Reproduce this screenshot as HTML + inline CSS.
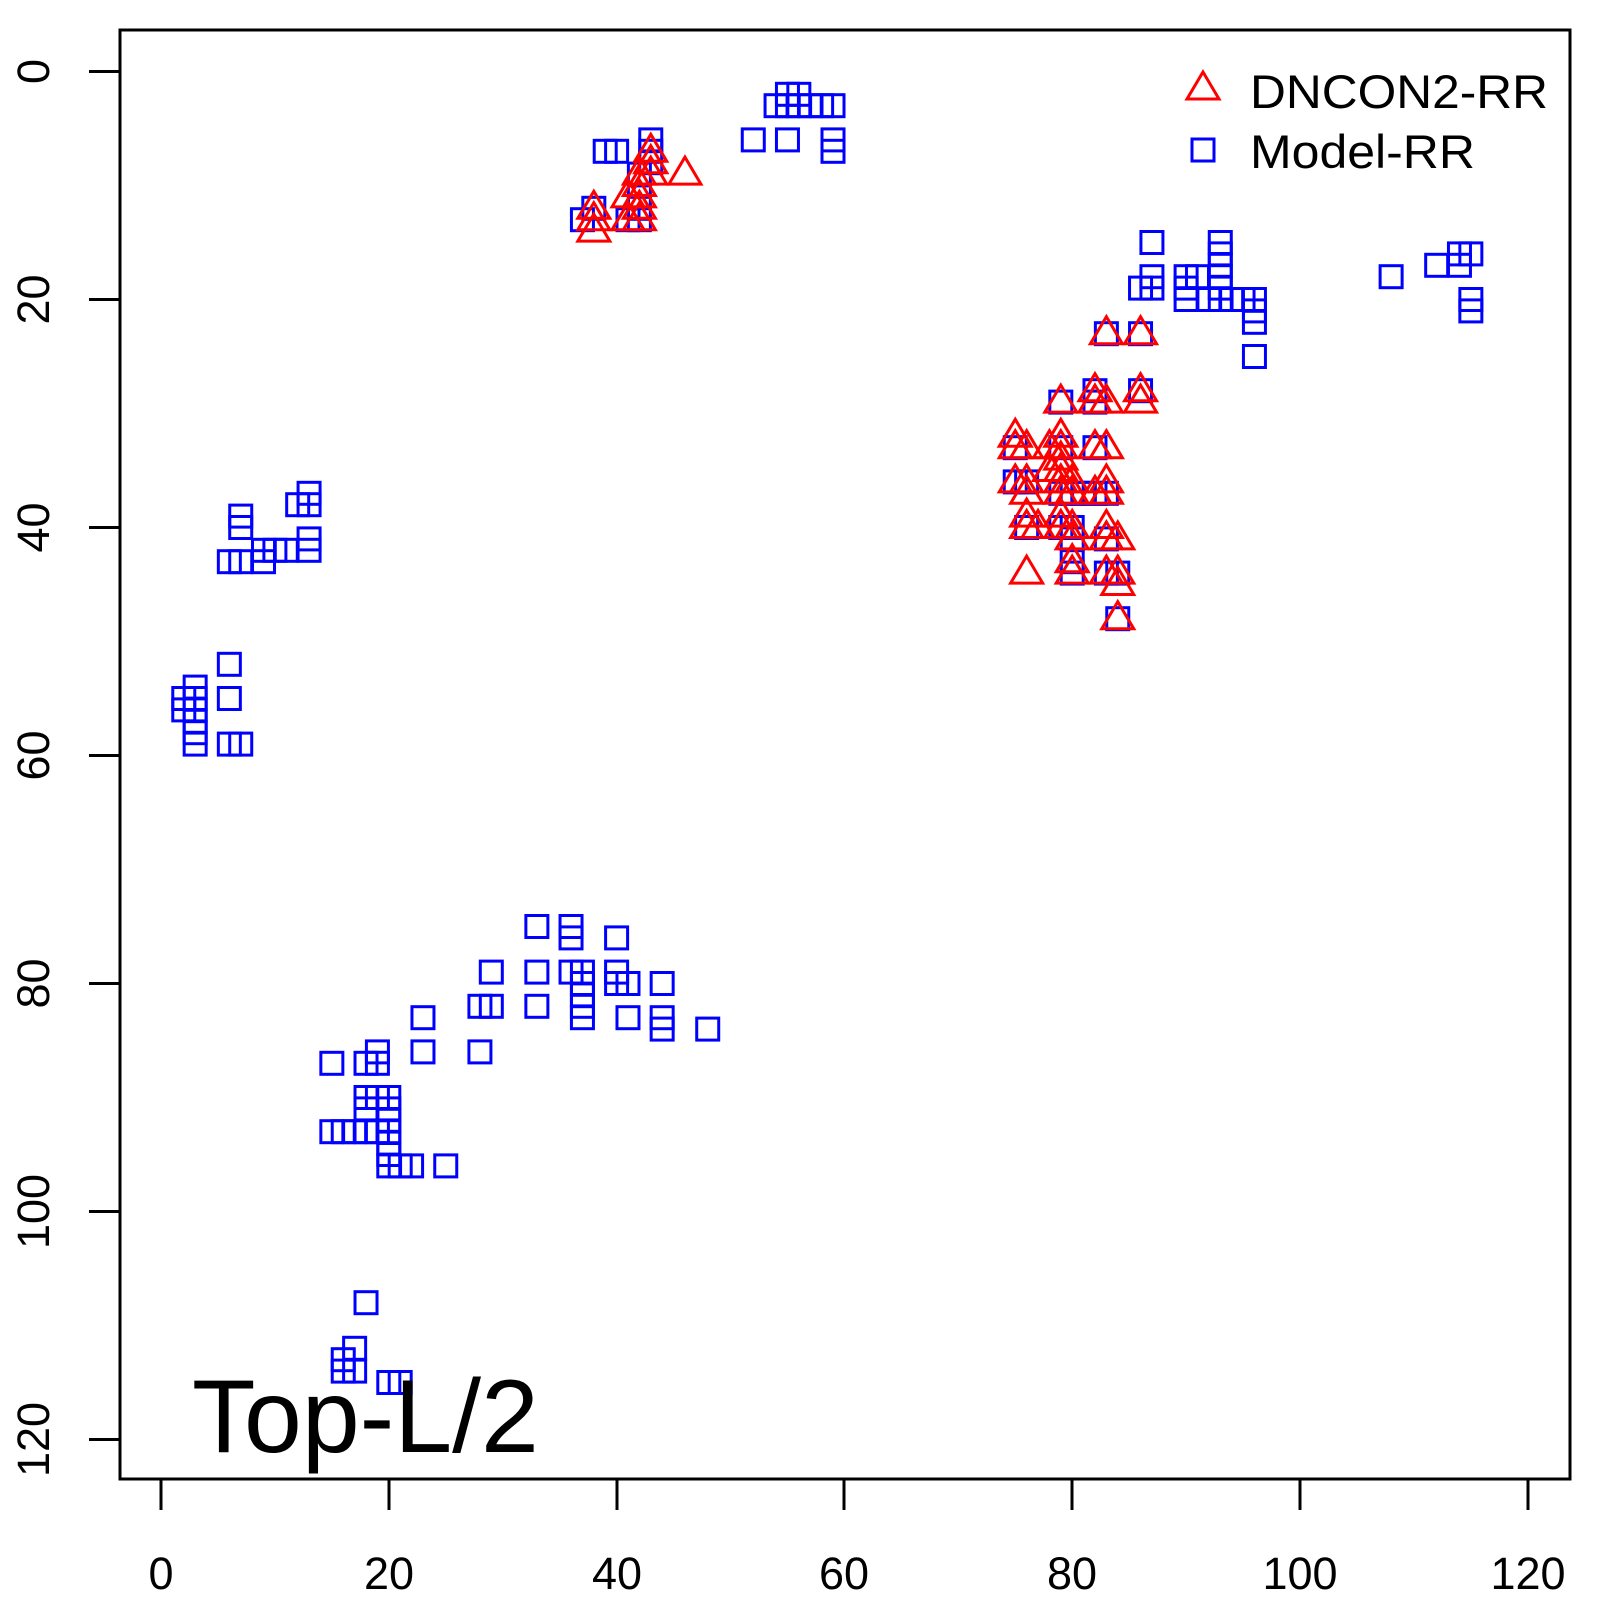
<!DOCTYPE html>
<html><head><meta charset="utf-8"><style>
html,body{margin:0;padding:0;background:#fff}
svg{display:block}
text{font-family:"Liberation Sans",Arial,sans-serif}
</style></head><body>
<svg id="s" width="1600" height="1600" viewBox="0 0 1600 1600" xmlns="http://www.w3.org/2000/svg">
<rect x="120" y="30" width="1450" height="1449" fill="none" stroke="#000" stroke-width="3"/>
<g stroke="#000" stroke-width="3">
<line x1="161" y1="1479" x2="1528" y2="1479"/>
<line x1="161" y1="1479" x2="161" y2="1510"/>
<line x1="389" y1="1479" x2="389" y2="1510"/>
<line x1="617" y1="1479" x2="617" y2="1510"/>
<line x1="844" y1="1479" x2="844" y2="1510"/>
<line x1="1072" y1="1479" x2="1072" y2="1510"/>
<line x1="1300" y1="1479" x2="1300" y2="1510"/>
<line x1="1528" y1="1479" x2="1528" y2="1510"/>
<line x1="120" y1="71.5" x2="120" y2="1439.5"/>
<line x1="89" y1="71.5" x2="120" y2="71.5"/>
<line x1="89" y1="299.5" x2="120" y2="299.5"/>
<line x1="89" y1="527.5" x2="120" y2="527.5"/>
<line x1="89" y1="755.5" x2="120" y2="755.5"/>
<line x1="89" y1="983.5" x2="120" y2="983.5"/>
<line x1="89" y1="1211.5" x2="120" y2="1211.5"/>
<line x1="89" y1="1439.5" x2="120" y2="1439.5"/>
</g>
<g font-size="45" text-anchor="middle" fill="#000">
<text x="161" y="1589">0</text>
<text x="389" y="1589">20</text>
<text x="617" y="1589">40</text>
<text x="844" y="1589">60</text>
<text x="1072" y="1589">80</text>
<text x="1300" y="1589">100</text>
<text x="1528" y="1589">120</text>
<text transform="translate(49,71.5) rotate(-90)">0</text>
<text transform="translate(49,299.5) rotate(-90)">20</text>
<text transform="translate(49,527.5) rotate(-90)">40</text>
<text transform="translate(49,755.5) rotate(-90)">60</text>
<text transform="translate(49,983.5) rotate(-90)">80</text>
<text transform="translate(49,1211.5) rotate(-90)">100</text>
<text transform="translate(49,1439.5) rotate(-90)">120</text>
</g>
<g id="blue" fill="none" stroke="#0000ff" stroke-width="3"></g>
<g id="red" fill="none" stroke="#ff0000" stroke-width="3"></g>
<polygon points="1203,72 1219,99 1187,99" fill="none" stroke="#ff0000" stroke-width="3"/>
<rect x="1192" y="139" width="22" height="22" fill="none" stroke="#0000ff" stroke-width="3"/>
<text x="1250" y="108" font-size="47" textLength="298" lengthAdjust="spacingAndGlyphs">DNCON2-RR</text>
<text x="1250" y="168" font-size="47" textLength="225" lengthAdjust="spacingAndGlyphs">Model-RR</text>
<text x="192" y="1452" font-size="104">Top-L/2</text>
</svg>
<script>
var X=function(v){return 161+11.39*v},Y=function(v){return 71.5+11.4*v};
var B=[[55,2],[56,2],[54,3],[55,3],[56,3],[57,3],[58,3],[59,3],[52,6],[55,6],[59,6],[59,7],
[39,7],[40,7],[43,6],[43,7],[43,8],[42,9],[38,12],[37,13],[41,13],[42,13],[42,12],[42,11],
[83,23],[86,23],[82,28],[86,28],[82,29],[79,29],[75,33],[79,33],[82,33],[75,36],[76,36],[79,37],[80,37],[81,37],[82,37],[83,37],
[76,40],[79,40],[80,40],[80,41],[83,41],[80,43],[80,44],[83,44],[84,44],[84,48],
[87,15],[87,18],[87,19],[86,19],[90,18],[90,19],[90,20],[91,18],[93,15],[93,16],[93,17],[93,18],[93,19],[93,20],[92,20],[94,20],[95,20],[96,20],[96,21],[96,22],[96,25],
[108,18],[112,17],[114,16],[114,17],[115,16],[115,20],[115,21],
[13,37],[13,38],[12,38],[13,41],[13,42],[11,42],[10,42],[9,42],[9,43],[7,39],[7,40],[6,43],[7,43],
[6,52],[6,55],[2,55],[2,56],[3,54],[3,55],[3,56],[3,57],[3,58],[3,59],[6,59],[7,59],
[15,87],[15,93],[16,93],[17,93],[18,93],[19,93],[20,93],[18,87],[19,86],[19,87],[18,90],[18,91],[19,90],[20,90],[20,91],[20,92],[20,94],[20,95],[20,96],[21,96],[22,96],[25,96],
[23,83],[23,86],[28,82],[29,82],[28,86],[29,79],[33,75],[33,79],[33,82],[36,75],[36,76],[36,79],[37,79],[37,80],[37,81],[37,82],[37,83],[40,76],[40,79],[40,80],[41,80],[41,83],[44,80],[44,83],[44,84],[48,84],
[18,108],[17,112],[16,113],[16,114],[17,114],[20,115],[21,115]];
var R=[[38,12],[38,13],[38,14],[41,11],[41,13],[42,9],[42,10],[42,11],[42,12],[42,13],[43,7],[43,8],[43,9],[46,9],
[83,23],[86,23],[82,28],[82,29],[83,29],[86,28],[86,29],[79,29],[75,32],[75,33],[76,33],[78,33],[79,32],[79,33],[82,33],[83,33],
[75,36],[76,36],[76,37],[79,34],[79,35],[79,36],[79,37],[80,36],[80,37],[78,35],[82,37],[83,36],[83,37],
[76,39],[76,40],[77,40],[79,39],[79,40],[80,40],[80,41],[83,40],[83,41],[84,41],[76,44],[80,43],[80,44],[83,44],[84,44],[84,45],[84,48]];
var ns="http://www.w3.org/2000/svg",gb=document.getElementById("blue"),gr=document.getElementById("red");
B.forEach(function(p){var r=document.createElementNS(ns,"rect");r.setAttribute("x",X(p[0])-11);r.setAttribute("y",Y(p[1])-11);r.setAttribute("width",22);r.setAttribute("height",22);gb.appendChild(r);});
R.forEach(function(p){var x=X(p[0]),y=Y(p[1]);var t=document.createElementNS(ns,"polygon");t.setAttribute("points",x+","+(y-17)+" "+(x+16)+","+(y+10)+" "+(x-16)+","+(y+10));gr.appendChild(t);});
</script>
</body></html>
